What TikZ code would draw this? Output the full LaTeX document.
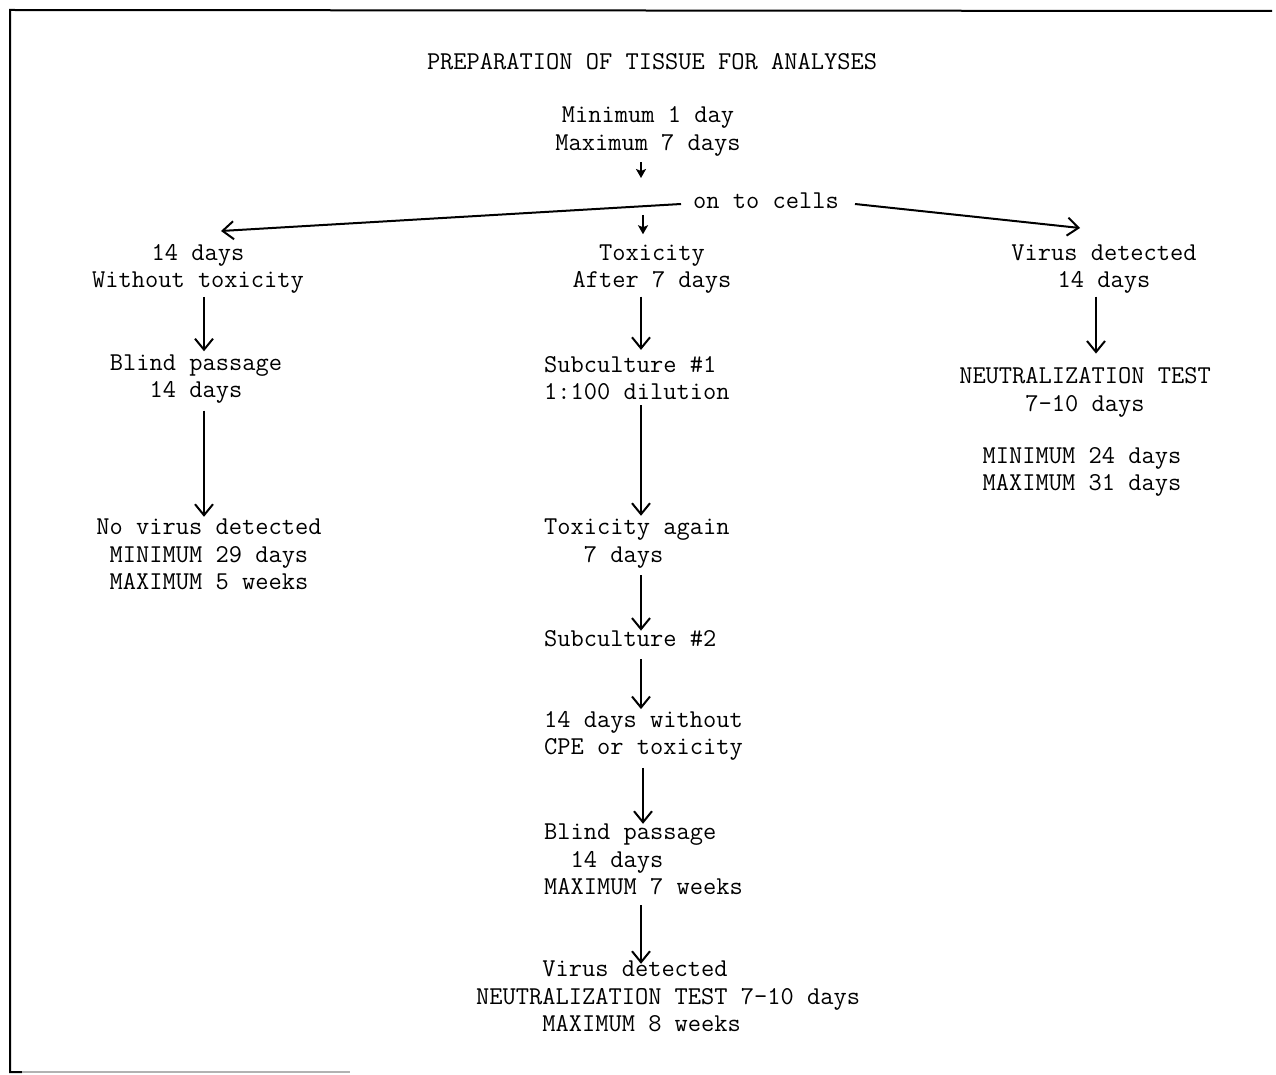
\documentclass[tikz,border=0pt]{standalone}
\usetikzlibrary{arrows.meta}
\begin{document}
\begin{tikzpicture}[x=1pt,y=-1pt,
  txt/.style={font=\ttfamily\fontsize{25.7}{27.5}\selectfont, inner sep=0pt, align=center},
  ltxt/.style={txt, align=left, anchor=west},
  arr/.style={line width=2pt, -{Straight Barb[length=11pt,width=18pt,line width=2pt]}},
  sarr/.style={line width=2pt, -{Stealth[length=9pt,width=10pt,inset=2pt]}},
  frame/.style={line width=2pt},
]
\useasboundingbox (0,0) rectangle (1276,1075);
% frame
\draw[frame] (1272,11) -- (10,10) -- (10,1072) -- (22,1072);
\draw[line width=1.5pt, black!30] (22,1072) -- (350,1072);
% texts
\node[txt] (title) at (652,62) {PREPARATION OF TISSUE FOR ANALYSES};
\node[txt] (start) at (648,131.5) {Minimum 1 day\\Maximum 7 days};
\node[txt] (cells) at (766,201) {on to cells};
\node[txt] (l1) at (198,269) {14 days\\Without toxicity};
\node[txt] (m1) at (652,269) {Toxicity\\After 7 days};
\node[txt] (r1) at (1104,269) {Virus detected\\14 days};
\node[txt] (l2) at (196,379) {Blind passage\\14 days};
\node[ltxt] (m2) at (544,378) {Subculture \#1\\1:100 dilution};
\node[txt] (r2) at (1085,392.5) {NEUTRALIZATION TEST\\7-10 days};
\node[txt] (r3) at (1082,472) {MINIMUM 24 days\\MAXIMUM 31 days};
\node[txt] (l3) at (209,554.5) {No virus detected\\MINIMUM 29 days\\MAXIMUM 5 weeks};
\node[ltxt] (m3) at (544,543.5) {Toxicity again\\~~~7 days};
\node[ltxt] (m4) at (544,639) {Subculture \#2};
\node[ltxt] (m5) at (544,736) {14 days without\\CPE or toxicity};
\node[ltxt] (m6) at (544,859.5) {Blind passage\\~~14 days\\MAXIMUM 7 weeks};
\node[ltxt] (m7) at (476,996.5) {~~~~~Virus detected\\NEUTRALIZATION TEST 7-10 days\\~~~~~MAXIMUM 8 weeks};
% helper coordinates
\coordinate (mx) at (641,0);
\coordinate (mx2) at (643,0);
\coordinate (lx) at (204,0);
\coordinate (rx) at (1096,0);
\coordinate (ltip) at (221,231);
\coordinate (rtip) at (1080,228);
% top arrows
\draw[sarr, shorten <=6pt, shorten >=23pt] (start.south -| mx) -- (cells.west -| mx);
\draw[sarr, shorten <=14pt, shorten >=10pt] (cells.west -| mx2) -- (m1.north -| mx2);
\draw[arr] ([xshift=-12pt,yshift=-3pt]cells.west) -- (ltip);
\draw[arr] ([xshift=16pt,yshift=-3pt]cells.east) -- (rtip);
% left column
\draw[arr, shorten <=3pt, shorten >=3pt] (l1.south -| lx) -- (l2.north -| lx);
\draw[arr, shorten <=7pt, shorten >=2pt] (l2.south -| lx) -- (l3.north -| lx);
% right column
\draw[arr, shorten <=3pt, shorten >=14pt] (r1.south -| rx) -- (r2.north -| rx);
% middle column
\draw[arr, shorten <=3pt, shorten >=6pt] (m1.south -| mx) -- (m2.north -| mx);
\draw[arr, shorten <=5pt, shorten >=3pt] (m2.south -| mx) -- (m3.north -| mx);
\draw[arr, shorten <=7pt, shorten >=0pt] (m3.south -| mx) -- (m4.north -| mx);
\draw[arr, shorten <=12pt, shorten >=2pt] (m4.south -| mx) -- (m5.north -| mx);
\draw[arr, shorten <=7pt, shorten >=0pt] (m5.south -| mx2) -- (m6.north -| mx2);
\draw[arr, shorten <=10pt, shorten >=-3pt] (m6.south -| mx) -- (m7.north -| mx);
\end{tikzpicture}
\end{document}
